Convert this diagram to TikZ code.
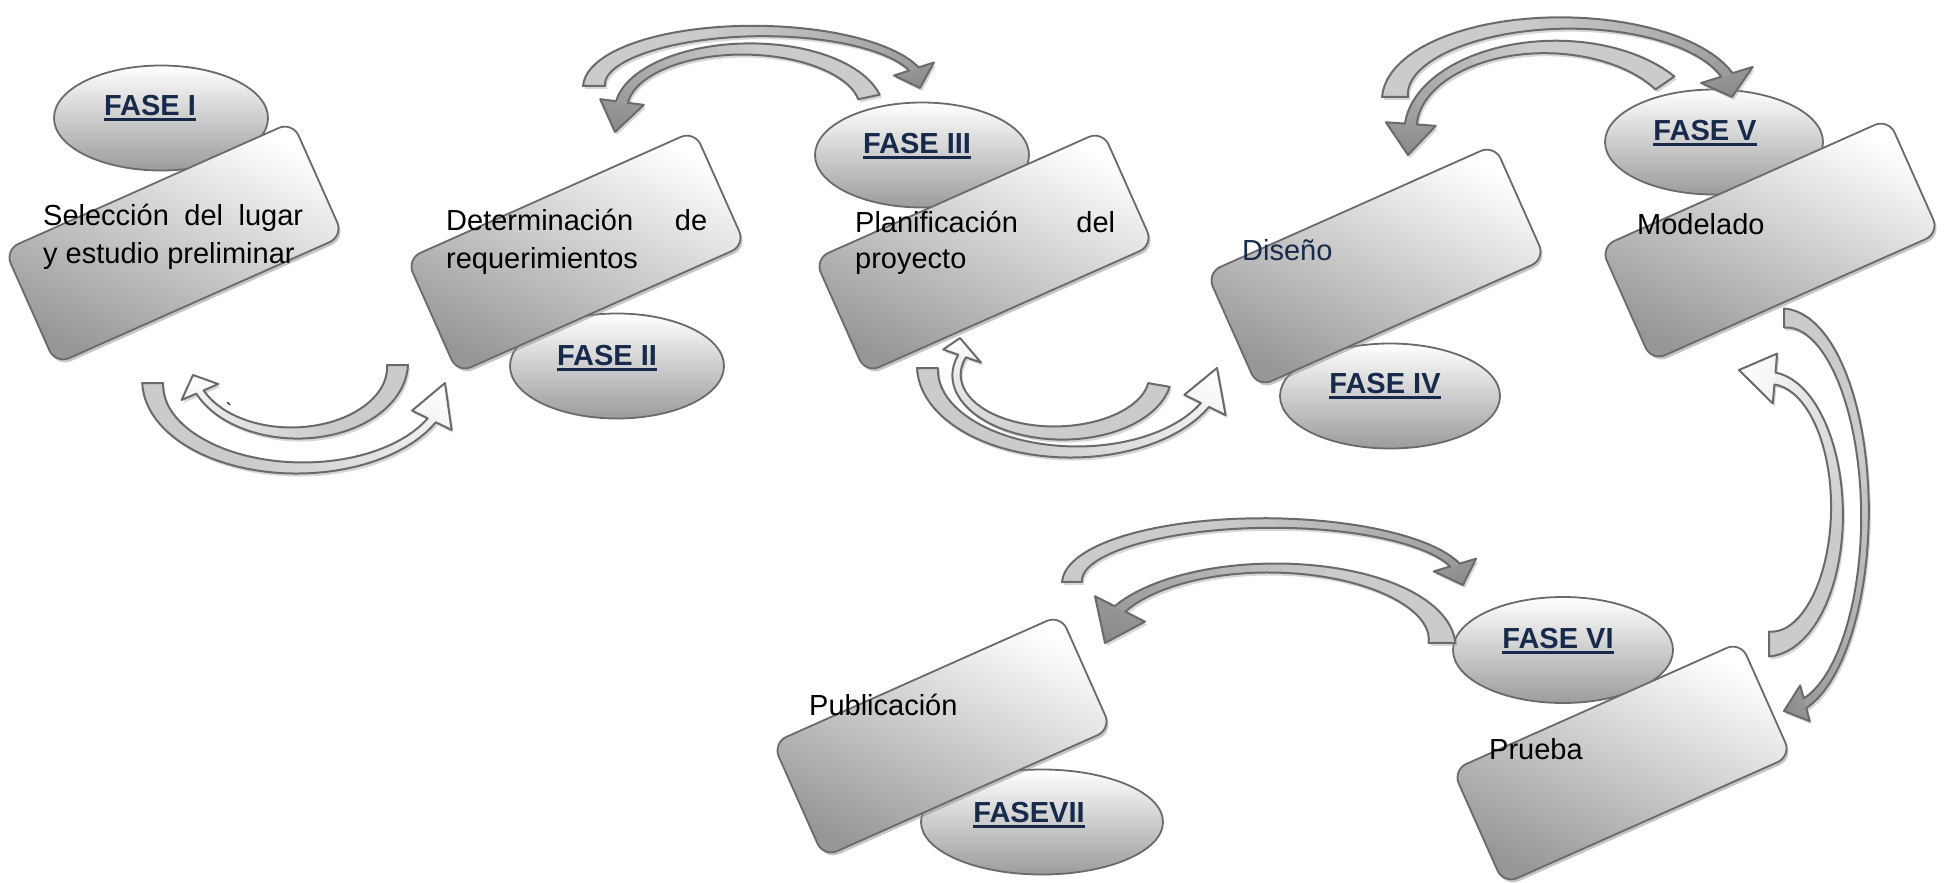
\documentclass[tikz,border=0pt]{standalone}
\usepackage{fontspec}
\setmainfont{Liberation Sans}
\usetikzlibrary{shapes.geometric,shadows}

\definecolor{linegray}{HTML}{6A6A6A}
\definecolor{boxdark}{HTML}{979797}
\definecolor{ellgray}{HTML}{9C9C9C}
\definecolor{bodygray}{HTML}{CBCBCB}
\definecolor{headdark}{HTML}{8A8A8A}
\definecolor{headlight}{HTML}{FFFFFF}
\definecolor{navytext}{HTML}{172A4B}

% underlined phase label
\newcommand\fase[1]{\setbox0=\hbox{#1}\rlap{\rule[-6pt]{\wd0}{3pt}}\box0}

% curved block arrow following an elliptical arc
% #1 body colour, #2 head colour, #3 cx,cy,rx,ry, #4 tail angle,head angle,
% #5 half widths (tail,middle,head end) and head half width, #6 tip x,y
\makeatletter
\def\ca@four#1,#2,#3,#4\@nil{\def\ca@cx{#1}\def\ca@cy{#2}\def\ca@rx{#3}\def\ca@ry{#4}}
\def\ca@two#1,#2\@nil{\def\ca@ta{#1}\def\ca@tb{#2}}
\def\ca@wid#1,#2,#3,#4\@nil{\def\ca@wa{#1}\def\ca@wm{#2}\def\ca@wb{#3}\def\ca@hw{#4}}
\def\ca@tip#1,#2\@nil{\def\ca@px{#1}\def\ca@py{#2}}
\def\ca@w#1{(\ca@wa*(1-(#1))*(1-2*(#1))+4*\ca@wm*(#1)*(1-(#1))+\ca@wb*(#1)*(2*(#1)-1))}
\def\ca@t#1{(\ca@ta+(#1)*(\ca@tb-(\ca@ta)))}
\def\ca@X#1#2{\ca@cx+(\ca@rx#2\ca@w{#1})*cos(\ca@t{#1})}
\def\ca@Y#1#2{\ca@cy+(\ca@ry#2\ca@w{#1})*sin(\ca@t{#1})}
\def\ca@path{plot[variable=\s,domain=0:1,samples=41] ({\ca@X{\s}{+}},{\ca@Y{\s}{+}})
  -- (\ca@ox,\ca@oy) -- (\ca@px,\ca@py) -- (\ca@ix,\ca@iy)
  -- plot[variable=\s,domain=0:1,samples=41] ({\ca@X{1-\s}{-}},{\ca@Y{1-\s}{-}}) -- cycle}
\newcommand\curvarrow[6]{%
  \def\ca@bc{#1}\def\ca@hc{#2}%
  \ca@four#3\@nil\ca@two#4\@nil\ca@wid#5\@nil\ca@tip#6\@nil
  \pgfmathsetmacro\ca@ox{\ca@cx+(\ca@rx+\ca@hw)*cos(\ca@tb)}%
  \pgfmathsetmacro\ca@oy{\ca@cy+(\ca@ry+\ca@hw)*sin(\ca@tb)}%
  \pgfmathsetmacro\ca@ix{\ca@cx+(\ca@rx-\ca@hw)*cos(\ca@tb)}%
  \pgfmathsetmacro\ca@iy{\ca@cy+(\ca@ry-\ca@hw)*sin(\ca@tb)}%
  \pgfmathsetmacro\ca@bx{\ca@cx+\ca@rx*cos(\ca@tb)}%
  \pgfmathsetmacro\ca@by{\ca@cy+\ca@ry*sin(\ca@tb)}%
  \pgfmathsetmacro\ca@ang{atan2(\ca@by-\ca@py,\ca@px-\ca@bx)+90}%
  \fill[black!35,opacity=.45,shift={(2,3)}] \ca@path;
  \foreach \i in {0,...,29}{%
    \pgfmathsetmacro\ca@sa{\i/30}%
    \pgfmathsetmacro\ca@sb{min(1,(\i+1.4)/30)}%
    \pgfmathtruncatemacro\ca@pc{75*max(0,((\i+0.5)/30-0.45)/0.55)}%
    \fill[fill=\ca@hc!\ca@pc!\ca@bc] ({\ca@X{\ca@sa}{+}},{\ca@Y{\ca@sa}{+}})
      -- ({\ca@X{\ca@sb}{+}},{\ca@Y{\ca@sb}{+}})
      -- ({\ca@X{\ca@sb}{-}},{\ca@Y{\ca@sb}{-}})
      -- ({\ca@X{\ca@sa}{-}},{\ca@Y{\ca@sa}{-}}) -- cycle;
  }%
  \shade[top color=\ca@hc!75!\ca@bc,bottom color=\ca@hc,shading angle=\ca@ang]
    (\ca@ox,\ca@oy) -- (\ca@px,\ca@py) -- (\ca@ix,\ca@iy) -- cycle;
  \draw[draw=linegray,line width=2,line join=round] \ca@path;
}
\makeatother

\tikzset{
  phasebox/.style={draw=linegray,line width=1.8,rounded corners=15,
    minimum width=315,minimum height=125,rotate=24,
    top color=white,bottom color=boxdark,shading angle=-24,
    drop shadow={shadow xshift=2pt,shadow yshift=-3pt,opacity=.5,fill=black!45}},
  phaseoval/.style={ellipse,draw=linegray,line width=1.8,inner sep=0,
    top color=white,bottom color=ellgray},
  boxtext/.style={inner sep=0,anchor=base west,font={\fontsize{29}{34}\selectfont}},
  fasetext/.style={inner sep=0,anchor=base,text=navytext,
    font={\bfseries\fontsize{29}{34}\selectfont}},
}

\begin{document}
\begin{tikzpicture}[x=1pt,y=-1pt]
\useasboundingbox (0,0) rectangle (1947,883);

% phase ovals
\node[phaseoval,minimum width=214,minimum height=105] (e1) at (161,118) {};
\node[phaseoval,minimum width=214,minimum height=105] (e2) at (617,366) {};
\node[phaseoval,minimum width=214,minimum height=105] (e3) at (922,155) {};
\node[phaseoval,minimum width=220,minimum height=105] (e4) at (1390,396) {};
\node[phaseoval,minimum width=218,minimum height=105] (e5) at (1714,142) {};
\node[phaseoval,minimum width=220,minimum height=106] (e6) at (1563,650) {};
\node[phaseoval,minimum width=242,minimum height=105] (e7) at (1042,822) {};

\node[fasetext] (f1) at (150,115) {\fase{FASE I}};
\node[fasetext] (f2) at (607,365) {\fase{FASE II}};
\node[fasetext] (f3) at (917,153) {\fase{FASE III}};
\node[fasetext] (f4) at (1385,393) {\fase{FASE IV}};
\node[fasetext] (f5) at (1705,140) {\fase{FASE V}};
\node[fasetext] (f6) at (1558,648) {\fase{FASE VI}};
\node[fasetext] (f7) at (1029,822) {\fase{FASEVII}};

% tilted step boxes
\node[phasebox] (b1) at (174,243) {};
\node[phasebox] (b2) at (576,252) {};
\node[phasebox] (b3) at (984,252) {};
\node[phasebox] (b4) at (1376,266) {};
\node[phasebox] (b5) at (1770,240) {};
\node[phasebox] (b6) at (1622,763) {};
\node[phasebox] (b7) at (942,736) {};

\node[boxtext] (t1a) at (43,225) {\makebox[260pt][s]{Selección del lugar}};
\node[boxtext] (t1b) at (43,263) {y estudio preliminar};
\node[boxtext] (t2a) at (446,230) {\makebox[261pt][s]{Determinación de}};
\node[boxtext] (t2b) at (446,268) {requerimientos};
\node[boxtext] (t3a) at (855,232) {\makebox[260pt][s]{Planificación del}};
\node[boxtext] (t3b) at (855,268) {proyecto};
\node[boxtext,text=navytext] (t4) at (1242,260) {Diseño};
\node[boxtext] (t5) at (1637,234) {Modelado};
\node[boxtext] (t6) at (1489,759) {Prueba};
\node[boxtext] (t7) at (809,715) {Publicación};

% curved arrow pairs between the steps
\curvarrow{bodygray}{headlight}{299.7,383,147,85}{180,26}{10.5,6,4.5,22}{445,383}
\curvarrow{bodygray}{headlight}{294.5,365,103,68}{0,156.6}{10.5,6,4,20}{193,375}
\curvarrow{bodygray}{headdark}{758,86,164,55}{-180,-18}{11,5.5,5,21}{920,88}
\curvarrow{bodygray}{headdark}{746.4,110,125.5,61}{-12.3,-172.5}{11,5.5,6,22}{615,132}
\curvarrow{bodygray}{headlight}{1073.7,368,146.2,84}{180,26.1}{10.5,6,4.5,23}{1217,368}
\curvarrow{bodygray}{headlight}{1058.5,375,102,58}{9.9,199.1}{11,6,4,20}{960,338}
\curvarrow{bodygray}{headdark}{1564.8,97,169.8,74}{-180,-17.3}{13,6,6,27}{1732,97}
\curvarrow{bodygray}{headdark}{1550,130,139.5,83}{-34.5,-175.9}{11.5,5.5,6,25}{1408,155}
\curvarrow{bodygray}{headdark}{1784,514,81,196}{-90,75}{9.5,4,5,18.5}{1784,711}
\curvarrow{bodygray}{headlight}{1769,511,68,133}{90,-85}{12.5,6,6,25}{1739,370}
\curvarrow{bodygray}{headdark}{1267.6,582,195.6,59}{-180,-16.7}{10,5,5,22}{1463,585}
\curvarrow{bodygray}{headdark}{1271.7,643,170.3,75}{0,-153}{13.5,5,6,28}{1105,643}

\node[inner sep=0,font={\fontsize{20}{20}\selectfont}] (mk) at (229,410) {\textasciigrave};
\end{tikzpicture}
\end{document}
